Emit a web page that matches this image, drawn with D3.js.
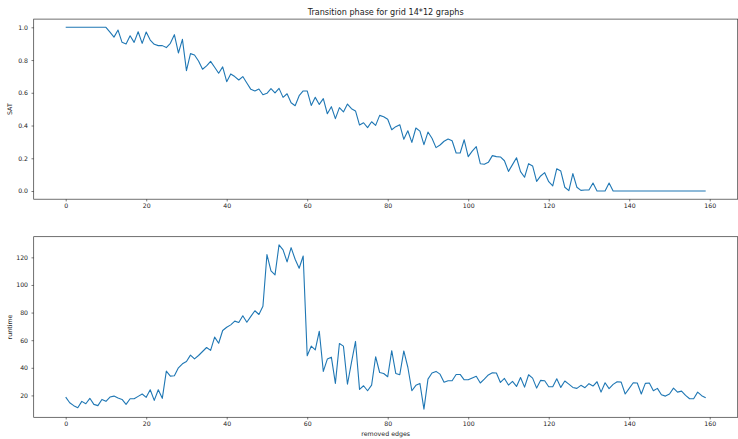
<!DOCTYPE html>
<html lang="en">

<head>
    <meta charset="utf-8">
    <title>Transition phase for grid 14*12 graphs</title>
    <style>
        body {
            margin: 0;
            background-color: white;
        }

        .axis {
            font: 6.2px "DejaVu Sans", sans-serif;
        }

        .axis text {
            fill: #222;
        }

        .axis line {
            stroke: #222;
            stroke-width: 0.6px;
        }

        .axis path {
            display: none;
        }

        .frame {
            fill: none;
            stroke: #333;
            stroke-width: 0.7px;
        }

        .line {
            fill: none;
            stroke: #1f77b4;
            stroke-width: 1.1px;
            stroke-linejoin: round;
        }

        .label {
            font: 6.3px "DejaVu Sans", sans-serif;
            fill: #222;
        }

        .title {
            font: 8.1px "DejaVu Sans", sans-serif;
            fill: #222;
        }
    </style>
</head>

<body>
    <script src="https://d3js.org/d3.v7.min.js"></script>
    <svg width="738" height="439"></svg>

    <script>
        // data, one value per removed edge (0..159)
        var sat = [
            1, 1, 1, 1, 1, 1, 1, 1, 1, 1, 1,
            0.97, 0.94, 0.983, 0.908, 0.898, 0.948, 0.908, 0.973, 0.902, 0.971,
            0.922, 0.896, 0.888, 0.888, 0.876, 0.902, 0.955, 0.843, 0.926, 0.735,
            0.839, 0.831, 0.794, 0.744, 0.764, 0.792, 0.756, 0.719, 0.758, 0.668,
            0.715, 0.699, 0.678, 0.699, 0.66, 0.621, 0.611, 0.623, 0.588, 0.597,
            0.625, 0.599, 0.627, 0.572, 0.594, 0.539, 0.521, 0.582, 0.611, 0.611,
            0.523, 0.572, 0.529, 0.564, 0.472, 0.515, 0.442, 0.509, 0.483, 0.531,
            0.503, 0.489, 0.403, 0.417, 0.387, 0.423, 0.401, 0.462, 0.454, 0.438,
            0.374, 0.393, 0.405, 0.316, 0.368, 0.297, 0.385, 0.366, 0.283, 0.36,
            0.322, 0.265, 0.281, 0.304, 0.318, 0.307, 0.232, 0.232, 0.313, 0.21,
            0.244, 0.271, 0.167, 0.163, 0.175, 0.216, 0.21, 0.208, 0.185, 0.12,
            0.161, 0.203, 0.118, 0.084, 0.167, 0.153, 0.059, 0.092, 0.112, 0.057,
            0.031, 0.136, 0.122, 0.023, 0.002, 0.106, 0.023, 0.004, 0.006, 0.006,
            0.049, 0, 0, 0, 0.049, 0, 0, 0, 0, 0,
            0, 0, 0, 0, 0, 0, 0, 0, 0, 0,
            0, 0, 0, 0, 0, 0, 0, 0, 0
        ];

        var runtime = [
            18.8, 14.7, 12.6, 11.1, 15.7, 14.0, 17.9, 13.5, 12.6, 17.1,
            15.7, 18.8, 19.5, 18.1, 17.1, 13.5, 17.6, 17.6, 19.3, 21.0,
            18.6, 24.1, 16.4, 24.1, 17.9, 37.6, 34.0, 34.2, 40.0, 42.9,
            44.6, 49.2, 46.5, 48.9, 51.8, 54.7, 52.6, 62.2, 57.8, 67.0,
            69.4, 71.1, 73.8, 72.8, 77.7, 73.0, 77.2, 81.3, 78.6, 84.6,
            122.0, 110.2, 107.3, 129.0, 125.4, 116.7, 127.0, 118.6, 112.1, 121.0,
            48.7, 55.7, 53.0, 66.5, 37.4, 46.3, 47.7, 28.7, 57.6, 55.7,
            28.1, 43.9, 59.1, 24.4, 27.0, 23.4, 27.5, 48.0, 36.6, 35.9,
            33.5, 52.4, 35.9, 35.0, 52.2, 40.4, 23.4, 27.3, 28.7, 10.1,
            31.8, 36.2, 37.4, 35.4, 29.6, 30.6, 30.6, 35.2, 35.2, 31.3,
            31.3, 32.7, 33.9, 29.0, 31.8, 34.8, 36.4, 36.2, 29.4, 32.3,
            27.5, 30.2, 26.5, 33.0, 26.0, 35.0, 32.5, 25.3, 30.9, 30.6,
            26.3, 26.3, 32.1, 25.8, 30.4, 28.2, 25.8, 25.1, 27.3, 25.6,
            28.5, 26.8, 29.9, 22.4, 29.2, 24.9, 28.0, 29.9, 29.6, 21.0,
            25.1, 29.2, 29.0, 21.0, 28.7, 29.0, 23.4, 25.1, 20.5, 19.5,
            21.0, 25.3, 22.4, 23.1, 20.0, 17.6, 17.6, 22.4, 19.8, 18.4
        ];

        var xTicks = [0, 20, 40, 60, 80, 100, 120, 140, 160];
        var satTicks = [0, 0.2, 0.4, 0.6, 0.8, 1.0];
        var runtimeTicks = [20, 40, 60, 80, 100, 120];

        var svg = d3.select("svg");

        // panel boxes, matplotlib style (5% padding on each side of data)
        var left = 33.7,
            right = 737.7;

        var x = d3.scaleLinear()
            .domain([0 - 159 * 0.05, 159 * 1.05])
            .range([left, right]);

        function padded(values) {
            var ext = d3.extent(values),
                pad = (ext[1] - ext[0]) * 0.05;
            return [ext[0] - pad, ext[1] + pad];
        }

        function drawPanel(values, top, bottom, yTicks, yFormat, yLabel) {
            var y = d3.scaleLinear()
                .domain(padded(values))
                .range([bottom, top]);

            var line = d3.line()
                .x(function(d, i) {
                    return x(i);
                })
                .y(function(d) {
                    return y(d);
                });

            var g = svg.append("g");

            g.append("path")
                .datum(values)
                .attr("class", "line")
                .attr("d", line);

            // the frame
            g.append("rect")
                .attr("class", "frame")
                .attr("x", left)
                .attr("y", top)
                .attr("width", right - left)
                .attr("height", bottom - top);

            // x axis
            g.append("g")
                .attr("class", "axis")
                .attr("transform", "translate(0," + bottom + ")")
                .call(d3.axisBottom(x).tickValues(xTicks).tickSize(2.2).tickPadding(2.4));

            // y axis
            g.append("g")
                .attr("class", "axis")
                .attr("transform", "translate(" + left + ",0)")
                .call(d3.axisLeft(y).tickValues(yTicks).tickFormat(yFormat).tickSize(2.2).tickPadding(3.5));

            // y label
            g.append("text")
                .attr("class", "label")
                .attr("transform", "translate(12," + ((top + bottom) / 2) + ") rotate(-90)")
                .style("text-anchor", "middle")
                .text(yLabel);

            return g;
        }

        drawPanel(sat, 19.1, 199.2, satTicks, d3.format(".1f"), "SAT");
        drawPanel(runtime, 236.7, 417.3, runtimeTicks, d3.format("d"), "runtime");

        //Graph title
        svg.append("text")
            .attr("class", "title")
            .attr("x", (left + right) / 2)
            .attr("y", 14.5)
            .style("text-anchor", "middle")
            .text("Transition phase for grid 14*12 graphs");

        //x label under the bottom panel
        svg.append("text")
            .attr("class", "label")
            .attr("x", (left + right) / 2)
            .attr("y", 436)
            .style("text-anchor", "middle")
            .text("removed edges");
    </script>
</body>

</html>
